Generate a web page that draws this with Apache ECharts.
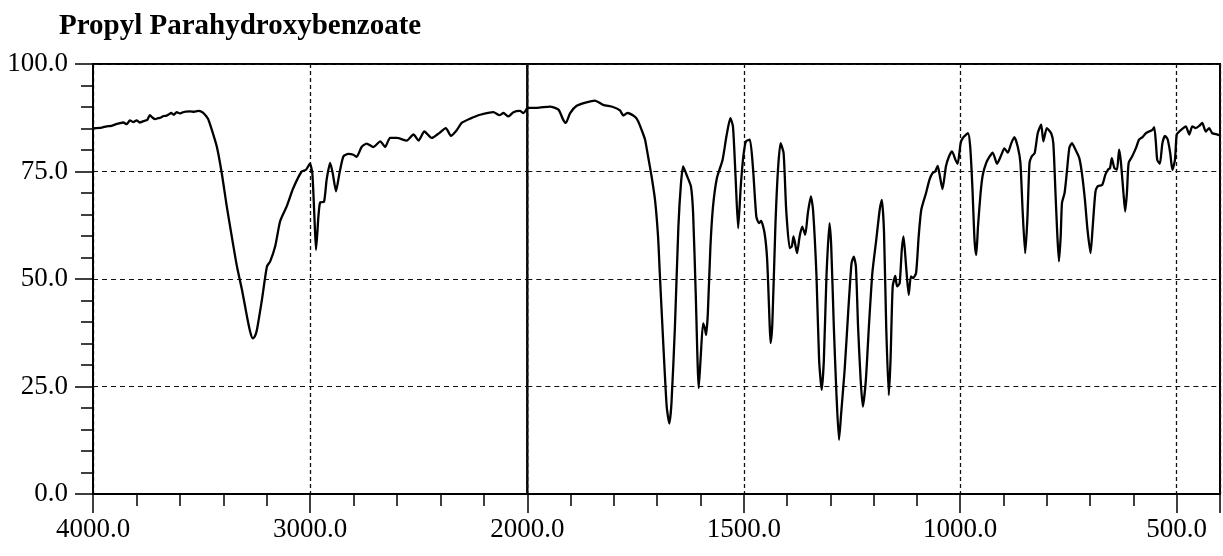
<!DOCTYPE html>
<html>
<head>
<meta charset="utf-8">
<script src="https://cdn.jsdelivr.net/npm/echarts@6/dist/echarts.min.js"></script>
<style>html,body{margin:0;padding:0;background:#fff;}#c{width:1223px;height:556px;}</style>
</head>
<body>
<div id="c"></div>
<script>
// Wavenumber (cm-1) and transmittance (%) – high region 4000..2000
const wnHigh = [4000,3960,3937,3915,3900,3880,3860,3845,3830,3815,3799,3785,3768,3750,3738,3725,3714,3700,3690,3675,3661,3650,3640,3628,3615,3600,3590,3572,3553,3535,3515,3500,3484,3470,3458,3430,3407,3384,3361,3337,3314,3291,3275,3264,3255,3245,3222,3199,3184,3161,3138,3108,3078,3039,3019,3001,2990,2980,2973,2962,2954,2936,2924,2908,2896,2881,2865,2847,2824,2801,2786,2763,2740,2709,2677,2655,2632,2601,2555,2524,2501,2474,2440,2409,2375,2352,2325,2302,2263,2217,2156,2128,2110,2087,2064,2034,2018,2000];
const tHigh  = [85.0,85.2,85.5,85.6,85.9,86.2,86.4,86.0,86.9,86.5,86.9,86.4,86.7,87.0,88.1,87.5,87.2,87.4,87.5,87.9,88.0,88.3,88.6,88.2,88.8,88.5,88.7,88.9,89.0,88.9,89.1,88.9,88.2,87.2,85.5,80.8,74.6,66.9,59.9,52.9,47.5,41.3,37.5,36.2,36.6,38.2,45.2,52.9,54.1,57.6,63.5,66.9,71.1,75.0,75.4,76.8,74.6,64.0,56.8,64.5,67.8,68.0,73.1,77.0,74.6,70.4,74.6,78.5,79.1,78.9,78.4,80.7,81.5,80.7,82.0,80.7,82.8,82.8,82.2,83.6,82.2,84.3,82.8,83.8,85.1,83.3,84.6,86.3,87.3,88.2,88.8,88.1,88.6,87.8,88.8,89.1,88.6,89.8];
// low region 2000..400
const wnLow = [2000,1978,1948,1928,1917,1911,1901,1886,1863,1844,1825,1802,1786,1778,1769,1751,1744,1736,1728,1721,1713,1705,1698,1694,1686,1678,1672,1667,1659,1651,1645,1640,1632,1622,1617,1611,1604,1599,1594,1590,1587,1583,1577,1571,1562,1549,1540,1531,1525,1519,1513,1507,1501,1495,1486,1479,1471,1465,1460,1452,1446,1440,1438,1434,1427,1421,1415,1408,1402,1394,1389,1385,1377,1371,1365,1358,1352,1345,1340,1332,1326,1320,1315,1309,1302,1298,1292,1286,1280,1275,1267,1259,1255,1251,1246,1241,1236,1230,1225,1218,1211,1203,1194,1186,1181,1176,1171,1165,1161,1156,1150,1146,1140,1135,1131,1125,1119,1114,1109,1102,1096,1090,1079,1071,1064,1058,1052,1047,1041,1033,1026,1019,1011,1006,999,994,982,977,972,967,963,959,953,948,940,932,925,915,905,898,890,882,875,867,861,856,850,845,840,835,828,821,813,808,800,790,785,780,776,772,768,765,759,754,748,742,734,725,719,712,706,699,694,688,683,672,665,659,654,650,644,638,633,629,623,619,615,611,603,594,587,579,571,564,557,552,548,545,539,533,527,521,515,510,504,500,494,487,479,471,464,456,448,441,433,425,418,406,400];
const tLow = [89.8,89.8,90.1,89.4,87.0,86.3,88.6,90.3,91.1,91.5,90.5,90.0,89.2,88.0,88.6,87.7,86.7,84.7,82.4,78.5,73.9,68.4,59.9,51.4,35.1,20.3,16.4,21.1,38.9,62.2,72.3,76.2,74.2,71.5,65.3,46.7,24.6,32.7,39.7,38.6,37.0,42.0,57.6,66.9,73.5,77.7,83.2,87.4,85.5,73.9,61.8,71.5,78.5,82.0,82.4,76.2,64.5,63.0,63.5,60.7,54.5,38.9,35.1,39.7,62.2,75.4,81.6,79.3,66.1,57.2,57.6,59.9,56.0,59.9,62.2,60.3,65.3,69.2,66.1,50.6,31.2,24.2,31.2,50.6,63.0,57.6,38.9,23.4,12.6,18.8,28.9,42.0,48.3,53.7,55.2,52.9,38.9,26.5,20.3,26.5,38.9,51.4,59.1,66.1,68.4,60.7,38.9,23.0,31.2,48.3,50.7,48.3,49.0,56.8,59.9,52.9,46.3,50.6,50.2,51.4,59.9,66.1,70.0,73.1,74.6,75.0,76.3,73.9,70.9,76.2,78.5,79.7,77.7,76.8,81.6,82.8,83.9,80.8,71.5,59.1,55.6,62.2,70.0,74.2,77.0,78.5,79.4,76.8,78.9,80.4,79.4,81.6,83.0,80.7,77.0,66.1,56.0,63.8,77.0,78.5,79.3,83.9,85.9,82.0,85.1,83.9,81.6,70.0,60.7,54.1,59.9,67.7,70.0,74.6,80.5,81.6,80.1,78.1,74.6,68.4,61.4,56.0,62.2,70.0,71.5,71.9,74.2,75.4,75.8,78.1,75.8,75.4,80.1,77.3,70.0,65.7,70.0,77.0,78.5,80.5,82.4,83.0,83.9,84.3,84.6,85.3,81.6,77.7,76.8,81.6,83.3,82.5,79.3,75.4,77.7,83.6,84.3,84.9,85.5,83.6,85.5,85.1,85.6,86.3,84.3,85.1,83.9,83.6,83.4];
const titleText = 'Propyl Parahydroxybenzoate';
const yMin = 0, yMax = 100, yStep = 25;

const chart = echarts.init(document.getElementById('c'), null, {renderer: 'canvas'});
const FONT = 'Liberation Serif';
const lbl = {fontFamily: FONT, fontSize: 27, color: '#000'};
const hDash = {color: '#111', width: 1.2, type: [5, 4]};
const vDash = {color: '#111', width: 1.3, type: [4, 3]};
const fmtX = v => (-v).toFixed(1);

function xAxisCfg(idx, min, max, interval) {
  return {
    type: 'value', gridIndex: idx, min: min, max: max, interval: interval,
    axisLine: {show: true, onZero: false, lineStyle: {color: '#000', width: 2}},
    axisTick: {show: true, length: 19, lineStyle: {color: '#000', width: 1.5}},
    minorTick: {show: true, splitNumber: 5, length: 12, lineStyle: {color: '#000', width: 1.5}},
    axisLabel: Object.assign({margin: 22, formatter: fmtX, showMaxLabel: false}, lbl),
    splitLine: {show: true, lineStyle: vDash}
  };
}

chart.setOption({
  animation: false,
  backgroundColor: '#fff',
  title: {
    text: titleText, left: 59, top: 12, padding: 0,
    textStyle: {fontFamily: FONT, fontSize: 29, fontWeight: 'bold', color: '#000'}
  },
  grid: [
    {left: 93, top: 64, width: 434.3, height: 430, show: true, borderColor: '#000', borderWidth: 2, backgroundColor: 'transparent', outerBoundsMode: 'none'},
    {left: 527.3, top: 64, width: 692.7, height: 430, show: true, borderColor: '#000', borderWidth: 2, backgroundColor: 'transparent', outerBoundsMode: 'none'}
  ],
  xAxis: [
    xAxisCfg(0, -4000, -2000, 1000),
    xAxisCfg(1, -2000, -400, 500)
  ],
  yAxis: [
    {
      type: 'value', gridIndex: 0, min: yMin, max: yMax, interval: yStep,
      axisLine: {show: true, onZero: false, lineStyle: {color: '#000', width: 2}},
      axisTick: {show: true, length: 18, lineStyle: {color: '#000', width: 1.5}},
      minorTick: {show: true, splitNumber: 5, length: 12, lineStyle: {color: '#000', width: 1.5}},
      axisLabel: Object.assign({margin: 25, formatter: v => v.toFixed(1)}, lbl),
      splitLine: {show: true, lineStyle: hDash}
    },
    {
      type: 'value', gridIndex: 1, min: yMin, max: yMax, interval: yStep,
      axisLine: {show: false}, axisTick: {show: false}, axisLabel: {show: false},
      splitLine: {show: true, lineStyle: hDash}
    }
  ],
  series: [
    {
      type: 'line', xAxisIndex: 0, yAxisIndex: 0, showSymbol: false, symbol: 'none', smooth: 0.2,
      lineStyle: {color: '#000', width: 2.3},
      data: wnHigh.map((w, i) => [-w, tHigh[i]])
    },
    {
      type: 'line', xAxisIndex: 1, yAxisIndex: 1, showSymbol: false, symbol: 'none', smooth: 0.2,
      lineStyle: {color: '#000', width: 2.3},
      data: wnLow.map((w, i) => [-w, tLow[i]])
    }
  ]
});
</script>
</body>
</html>
